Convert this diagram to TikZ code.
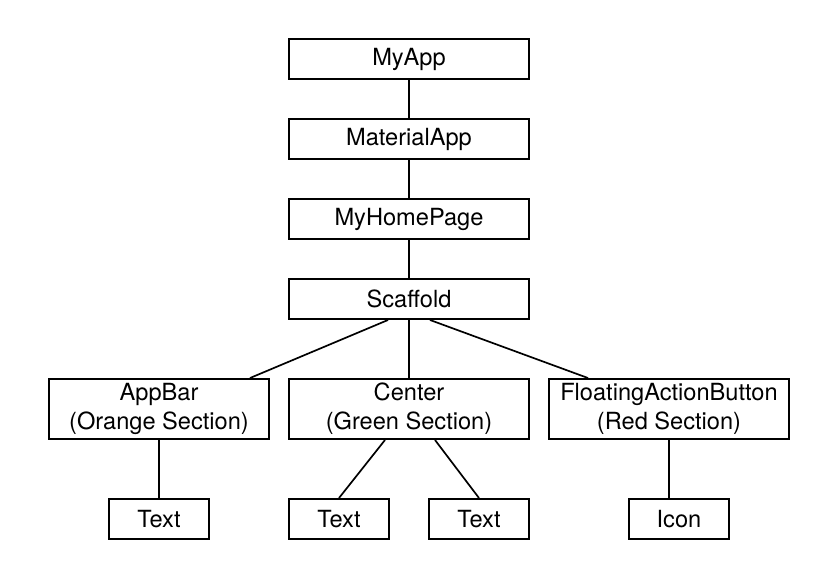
\documentclass[tikz,border=0pt]{standalone}
\usepackage{fontspec}
\setmainfont{TeX Gyre Heros}
\usepackage{tikz}
\tikzset{box/.style={draw, line width=1.4pt, minimum height=1cm, inner sep=0pt, align=center, font=\fontsize{16.8}{20.5}\selectfont}}
\tikzset{edge/.style={line width=1.2pt}}

\begin{document}
\begin{tikzpicture}
      \useasboundingbox (0, 0) rectangle (21, -14.65);
      % nodes
      \node[box, minimum width=6cm] (myapp) at (10.225, -1.475) {MyApp};
      \node[box, minimum width=6cm] (material) at (10.225, -3.475) {MaterialApp};
      \node[box, minimum width=6cm] (homepage) at (10.225, -5.475) {MyHomePage};
      \node[box, minimum width=6cm] (scaffold) at (10.225, -7.475) {Scaffold};
      \node[box, minimum width=5.5cm, minimum height=1.5cm] (appbar) at (3.975, -10.225) {AppBar\\(Orange Section)};
      \node[box, minimum width=6cm, minimum height=1.5cm] (center) at (10.225, -10.225) {Center\\(Green Section)};
      \node[box, minimum width=6cm, minimum height=1.5cm] (fab) at (16.725, -10.225) {FloatingActionButton\\(Red Section)};
      \node[box, minimum width=2.5cm] (textA) at (3.975, -12.975) {Text};
      \node[box, minimum width=2.5cm] (textB) at (8.475, -12.975) {Text};
      \node[box, minimum width=2.5cm] (textC) at (11.975, -12.975) {Text};
      \node[box, minimum width=2.5cm] (icon) at (16.975, -12.975) {Icon};
      % lines
      \draw[edge] (myapp) -- (material);
      \draw[edge] (material) -- (homepage);
      \draw[edge] (homepage) -- (scaffold);
      \draw[edge] ([xshift=-0.525cm]scaffold.south) -- ([xshift=2.275cm]appbar.north);
      \draw[edge] (scaffold) -- (center);
      \draw[edge] ([xshift=0.525cm]scaffold.south) -- ([xshift=-2.025cm]fab.north);
      \draw[edge] (appbar) -- (textA);
      \draw[edge] ([xshift=-0.6cm]center.south) -- (textB.north);
      \draw[edge] ([xshift=0.65cm]center.south) -- (textC.north);
      \draw[edge] (fab.south) -- ([xshift=-0.25cm]icon.north);
    \end{tikzpicture}
\end{document}
